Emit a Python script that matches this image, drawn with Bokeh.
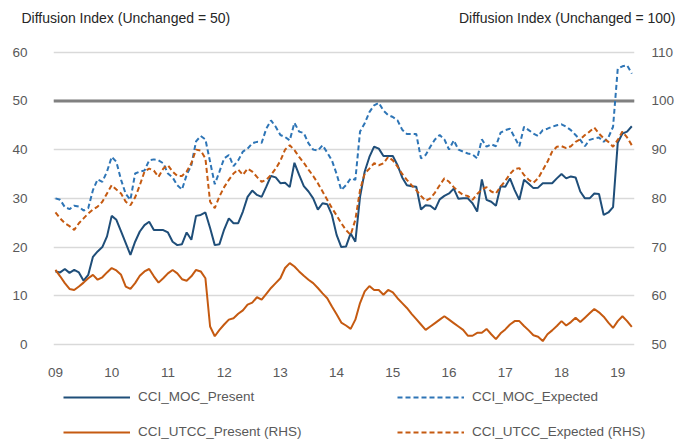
import pandas as pd
from bokeh.plotting import figure
from bokeh.layouts import column
from bokeh.models import (Range1d, LinearAxis, FixedTicker, Span, Label,
                          Legend, LegendItem)
from bokeh.embed import file_html
from bokeh.resources import INLINE

# ---------------- data (monthly, Jan 2009 - Apr 2019) ----------------
dates = pd.date_range("2009-01-01", periods=124, freq="MS")

cci_moc_present = [
    15.0, 14.8, 15.5, 14.7, 15.3, 14.8, 13.1, 14.3, 18.0, 19.1, 20.0, 22.2,
    26.4, 25.6, 23.2, 20.8, 18.4, 21.1, 23.2, 24.5, 25.2, 23.5, 23.5, 23.5,
    23.0, 21.1, 20.4, 20.6, 23.0, 21.5, 26.4, 26.6, 27.1, 23.9, 20.4, 20.6,
    23.6, 25.9, 24.9, 24.9, 27.3, 30.3, 31.6, 30.7, 30.3, 32.4, 34.6, 34.3,
    33.1, 33.2, 32.3, 37.3, 34.8, 32.5, 31.4, 30.0, 27.7, 29.0, 28.8, 26.6,
    22.5, 20.0, 20.1, 22.8, 21.1, 30.3, 35.5, 38.5, 40.6, 40.2, 38.7, 38.7,
    38.7, 36.8, 34.3, 32.7, 32.5, 32.4, 27.7, 28.6, 28.5, 27.7, 29.8, 30.5,
    31.0, 32.0, 29.9, 30.0, 30.0, 29.0, 27.3, 33.9, 29.7, 29.3, 28.5, 32.5,
    32.4, 34.1, 31.7, 29.7, 33.8, 33.0, 32.1, 32.2, 33.1, 33.1, 33.1, 34.1,
    35.0, 34.1, 34.5, 34.3, 31.4, 30.0, 30.0, 31.0, 30.9, 26.6, 27.1, 28.2,
    41.4, 43.3, 43.7, 44.8,
]

cci_moc_expected = [
    30.0, 29.7, 28.2, 27.8, 28.5, 28.3, 27.5, 28.0, 31.7, 33.9, 33.4, 35.5,
    38.5, 37.5, 33.8, 30.9, 29.7, 35.1, 35.5, 35.7, 37.8, 38.0, 37.8, 37.2,
    35.1, 34.3, 32.7, 31.8, 34.8, 36.8, 41.7, 42.8, 42.1, 37.5, 32.9, 35.5,
    38.2, 38.9, 36.6, 37.8, 39.6, 40.2, 41.3, 41.6, 41.4, 44.3, 46.0, 44.7,
    43.0, 42.6, 41.9, 45.5, 43.7, 43.4, 41.3, 40.0, 39.8, 40.9, 39.4, 37.8,
    35.0, 31.7, 32.7, 34.1, 33.8, 43.7, 45.4, 47.7, 49.1, 49.6, 48.0, 47.1,
    46.7, 46.0, 44.1, 43.2, 43.2, 43.2, 38.2, 38.9, 40.6, 42.1, 43.0, 42.1,
    40.0, 41.9, 40.0, 39.6, 39.2, 39.0, 38.2, 42.1, 40.6, 41.1, 40.7, 43.5,
    44.0, 44.3, 42.5, 40.7, 44.7, 44.0, 43.3, 42.8, 44.0, 44.3, 44.7, 45.0,
    45.2, 44.7, 44.0, 43.0, 42.0, 40.7, 42.0, 42.3, 42.5, 41.6, 42.5, 44.7,
    56.6, 57.1, 57.3, 55.6,
]

# right-hand scale (Unchanged = 100)
cci_utcc_present = [
    65.3, 64.0, 62.6, 61.4, 61.2, 61.9, 62.7, 63.6, 64.3, 63.3, 63.8, 64.8,
    65.7, 65.2, 64.3, 61.9, 61.4, 62.6, 64.1, 65.0, 65.5, 64.0, 62.7, 63.6,
    64.6, 65.3, 64.6, 63.4, 63.1, 64.0, 65.3, 65.0, 63.6, 53.7, 51.7, 53.0,
    54.1, 55.1, 55.4, 56.3, 57.0, 58.2, 58.6, 59.7, 59.2, 60.4, 61.6, 62.6,
    63.6, 65.7, 66.7, 66.0, 65.0, 64.1, 63.3, 62.6, 61.6, 60.5, 59.5, 57.8,
    56.2, 54.5, 53.9, 53.2, 55.1, 58.5, 60.9, 62.0, 61.2, 61.2, 60.2, 61.2,
    60.7, 59.5, 58.5, 57.5, 56.3, 55.2, 54.1, 53.0, 53.7, 54.4, 55.1, 55.8,
    55.1, 54.4, 53.7, 53.0, 51.8, 51.8, 52.4, 52.4, 53.2, 52.1, 51.1, 52.3,
    53.1, 54.1, 54.8, 54.8, 53.8, 52.9, 51.9, 51.6, 50.7, 52.1, 52.9, 53.8,
    54.8, 53.9, 54.6, 55.5, 54.6, 55.5, 56.4, 57.3, 56.6, 55.7, 54.5, 53.4,
    54.8, 55.8, 54.8, 53.6,
]

cci_utcc_expected = [
    77.1, 75.9, 74.9, 74.3, 73.5, 74.9, 75.9, 76.9, 77.7, 78.3, 79.3, 81.0,
    82.7, 81.8, 81.0, 79.3, 78.6, 80.2, 82.7, 85.5, 86.1, 85.7, 84.4, 86.1,
    86.8, 85.5, 84.6, 84.6, 85.5, 87.2, 90.0, 89.8, 88.2, 79.3, 78.0, 80.4,
    82.3, 83.8, 85.1, 85.9, 84.8, 86.1, 85.5, 84.4, 83.4, 83.8, 84.8, 86.1,
    87.7, 90.0, 90.9, 89.9, 88.5, 87.3, 85.9, 84.6, 83.1, 81.4, 79.7, 78.0,
    76.5, 74.9, 73.5, 72.5, 75.6, 81.7, 85.1, 86.1, 87.2, 86.8, 87.2, 88.5,
    87.8, 86.5, 85.0, 83.8, 82.7, 81.7, 80.5, 79.5, 80.0, 81.2, 82.7, 84.1,
    83.4, 82.3, 81.4, 80.7, 80.5, 79.7, 80.9, 81.8, 82.3, 81.4, 81.0, 82.4,
    83.6, 85.0, 86.0, 86.2, 84.8, 83.8, 83.2, 84.1, 85.8, 87.5, 89.6, 90.6,
    90.7, 90.3, 90.7, 91.6, 92.1, 93.0, 93.7, 94.5, 93.3, 92.3, 91.6, 90.6,
    92.0, 93.7, 92.5, 90.9,
]

year_ticks = [2009, 2010, 2011, 2012, 2013, 2014, 2015, 2016, 2017, 2018, 2019]
tick_labels = ["09", "10", "11", "12", "13", "14", "15", "16", "17", "18", "19"]
left_ticks = [0, 10, 20, 30, 40, 50, 60]
right_ticks = [50, 60, 70, 80, 90, 100, 110]

left_title = "Diffusion Index (Unchanged = 50)"
right_title = "Diffusion Index (Unchanged = 100)"
series_names = ["CCI_MOC_Present", "CCI_MOC_Expected",
                "CCI_UTCC_Present (RHS)", "CCI_UTCC_Expected (RHS)"]

x = [d.year + (d.month - 1) / 12 for d in dates]

# ---------------- styling ----------------
FONT = "Liberation Sans"
TICK_COLOR = "#595959"
DARK_BLUE = "#1F4E79"
MID_BLUE = "#2E75B6"
ORANGE = "#C55A11"
W = 677


def bare_figure(height):
    f = figure(width=W, height=height, output_backend="svg", toolbar_location=None,
               title=None, x_axis_type=None, y_axis_type=None,
               x_range=Range1d(0, W), y_range=Range1d(0, height),
               min_border_left=0, min_border_right=0,
               min_border_top=0, min_border_bottom=0)
    f.frame_align = False
    f.outline_line_color = None
    f.xgrid.visible = False
    f.ygrid.visible = False
    return f


# ---- title strip ----
pt = bare_figure(35)
pt.add_layout(Label(x=21, y=18, x_units="screen", y_units="screen",
                    text=left_title, text_font=FONT, text_font_size="14px",
                    text_color="#262626", text_baseline="middle", text_align="left"))
pt.add_layout(Label(x=675, y=18, x_units="screen", y_units="screen",
                    text=right_title, text_font=FONT, text_font_size="14px",
                    text_color="#262626", text_baseline="middle", text_align="right"))

# ---- main chart ----
p = figure(width=W, height=350, output_backend="svg", toolbar_location=None,
           title=None,
           x_range=Range1d(2008.965, 2019.298),
           y_range=Range1d(-1.23, 62.40),
           min_border_left=53, min_border_right=35,
           min_border_top=5, min_border_bottom=35)
p.frame_align = False
p.extra_y_ranges = {"rhs": Range1d(48.77, 112.40)}
p.outline_line_color = None

p.xgrid.visible = False
p.ygrid.ticker = FixedTicker(ticks=left_ticks)
p.ygrid.grid_line_color = "#D9D9D9"
p.ygrid.grid_line_width = 1.5


def style_axis(ax, standoff):
    ax.axis_line_color = None
    ax.major_tick_line_color = None
    ax.minor_tick_line_color = None
    ax.major_label_text_font = FONT
    ax.major_label_text_font_size = "13.5px"
    ax.major_label_text_color = TICK_COLOR
    ax.major_label_standoff = standoff


p.xaxis.ticker = FixedTicker(ticks=year_ticks)
p.xaxis.major_label_overrides = {yr: lab for yr, lab in zip(year_ticks, tick_labels)}
style_axis(p.xaxis[0], 11)

p.yaxis.ticker = FixedTicker(ticks=left_ticks)
style_axis(p.yaxis[0], 20)

rax = LinearAxis(y_range_name="rhs", ticker=FixedTicker(ticks=right_ticks))
style_axis(rax, 11)
p.add_layout(rax, "right")

p.add_layout(Span(location=50, dimension="width", line_color="#808080",
                  line_width=3, level="underlay"))

line_styles = [
    dict(line_color=DARK_BLUE, line_width=2),
    dict(line_color=MID_BLUE, line_width=2, line_dash="5 3"),
    dict(line_color=ORANGE, line_width=2),
    dict(line_color=ORANGE, line_width=2, line_dash="5 3"),
]
series = [cci_moc_present, cci_moc_expected, cci_utcc_present, cci_utcc_expected]

p.line(x, cci_moc_present, **line_styles[0])
p.line(x, cci_moc_expected, **line_styles[1])
p.line(x, cci_utcc_present, y_range_name="rhs", **line_styles[2])
p.line(x, cci_utcc_expected, y_range_name="rhs", **line_styles[3])

# ---- legend strip (its renderers fall outside this strip's view) ----
pl = bare_figure(55)
leg_renderers = [pl.line(x, s, **st) for s, st in zip(series, line_styles)]
legend = Legend(items=[LegendItem(label=n, renderers=[r])
                       for n, r in zip(series_names, leg_renderers)],
                ncols=2, orientation="horizontal", location=(63, 1),
                glyph_width=67, glyph_height=14, label_height=14, label_width=239,
                label_standoff=8, spacing=20, padding=0, margin=0,
                border_line_color=None, background_fill_alpha=0,
                label_text_font=FONT, label_text_font_size="13.5px",
                label_text_color=TICK_COLOR)
pl.add_layout(legend)

layout = column(pt, p, pl, spacing=0)
open("out.html", "w").write(file_html(layout, INLINE))
